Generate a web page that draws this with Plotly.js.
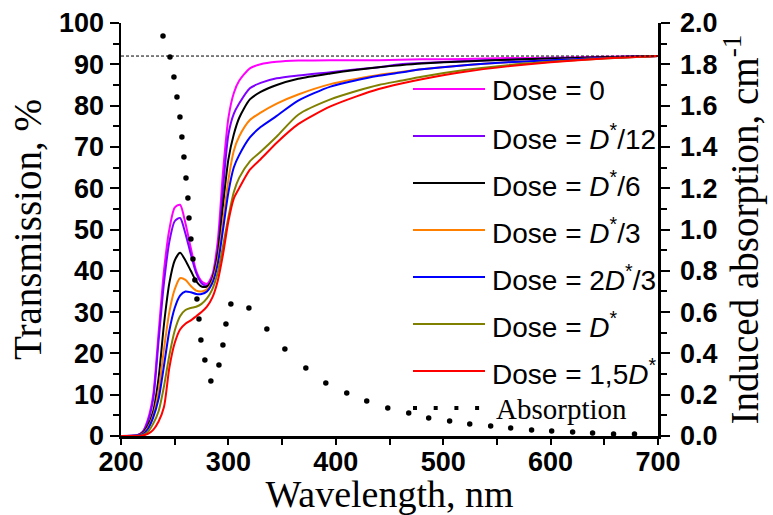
<!DOCTYPE html>
<html>
<head>
<meta charset="utf-8">
<script src="https://cdn.plot.ly/plotly-3.0.1.min.js"></script>
<style>
html,body{margin:0;padding:0;background:#ffffff;}
#chart{width:773px;height:515px;}
</style>
</head>
<body>
<div id="chart"></div>
<script>
// ---------- data ----------
const wavelength = [200, 215, 220, 225, 230, 235, 240, 245, 250, 255, 260, 265, 270, 275, 280, 285, 290, 295, 300, 305, 310, 320, 330, 345, 365, 395, 420, 440, 460, 480, 520, 560, 600, 650, 700];

const tDose0    = [0, 0.2, 1.0, 4.0, 10, 25, 40, 50, 55.3, 56.0, 51.5, 45.5, 40.0, 37.5, 36.8, 39.0, 47.0, 64.0, 77.0, 83.0, 86.0, 89.0, 90.0, 90.6, 90.9, 91.0, 91.0, 91.0, 91.1, 91.2, 91.3, 91.5, 91.6, 91.8, 92.0];
const tDoseD12  = [0, 0.2, 0.9, 3.5, 9, 23, 37, 47, 52.0, 52.8, 49.0, 44.0, 39.5, 37.0, 36.3, 38.5, 45.0, 60.0, 73.0, 78.0, 80.5, 84.2, 85.5, 86.6, 87.3, 88.1, 88.8, 89.3, 90.0, 90.3, 90.8, 91.1, 91.4, 91.7, 92.0];
const tDoseD6   = [0, 0.1, 0.7, 2.5, 6, 14, 27, 37, 42.5, 44.4, 42.5, 40.0, 37.5, 36.2, 36.2, 38.0, 44.0, 56.0, 67.0, 73.0, 77.0, 81.5, 83.3, 85.0, 86.5, 87.8, 88.7, 89.3, 89.8, 90.2, 90.7, 91.1, 91.4, 91.7, 92.0];
const tDoseD3   = [0, 0.1, 0.5, 2.0, 5, 11, 21, 30, 35.5, 38.2, 37.8, 36.3, 35.2, 35.0, 35.5, 37.5, 42.5, 52.0, 62.0, 69.0, 72.5, 76.5, 78.3, 80.5, 82.7, 85.2, 86.5, 87.4, 88.1, 88.8, 89.8, 90.5, 91.0, 91.5, 92.0];
const tDose2D3  = [0, 0.1, 0.4, 1.7, 4.5, 9, 17, 25.5, 31.0, 34.0, 35.0, 34.8, 34.4, 34.4, 35.0, 37.0, 41.5, 50.0, 59.0, 65.0, 68.0, 72.3, 74.8, 77.5, 81.2, 84.6, 86.2, 87.2, 88.0, 88.8, 89.8, 90.5, 91.0, 91.5, 92.0];
const tDoseD    = [0, 0.0, 0.2, 1.0, 3, 6, 12, 19.5, 25.5, 29.0, 30.5, 31.0, 31.3, 32.0, 33.3, 35.5, 39.5, 46.0, 53.0, 59.0, 62.5, 66.5, 68.8, 72.5, 77.8, 81.5, 83.6, 85.0, 86.0, 87.0, 88.6, 89.8, 90.6, 91.4, 92.0];
const tDose15D  = [0, 0.0, 0.1, 0.5, 1.5, 3.5, 7, 16.5, 22.5, 25.8, 27.2, 28.0, 29.0, 30.0, 31.3, 33.5, 37.5, 44.0, 52.0, 57.5, 60.0, 64.5, 67.0, 71.0, 75.5, 79.8, 82.3, 84.0, 85.3, 86.4, 88.2, 89.5, 90.5, 91.4, 92.0];

const seriesNames = [
  'Dose = 0',
  'Dose = <i>D</i><sup>*</sup>/12',
  'Dose = <i>D</i><sup>*</sup>/6',
  'Dose = <i>D</i><sup>*</sup>/3',
  'Dose = 2<i>D</i><sup>*</sup>/3',
  'Dose = <i>D</i><sup>*</sup>',
  'Dose = 1,5<i>D</i><sup>*</sup>'
];
const seriesValues = [tDose0, tDoseD12, tDoseD6, tDoseD3, tDose2D3, tDoseD, tDose15D];

const absWavelength = [239.1, 245.6, 249.3, 252.1, 254.9, 256.7, 258.6, 260.5, 262.3, 263.3, 265.1, 267.0, 268.8, 270.7, 272.6, 274.4, 278.1, 283.7, 291.2, 294.9, 297.7, 302.3, 319.1, 335.8, 352.6, 372.1, 390.7, 410.2, 428.8, 448.4, 467.9, 486.5, 506.0, 524.7, 544.2, 562.8, 582.3, 601.0, 620.5, 639.1, 658.6, 678.1];
const absValue = [1.937, 1.835, 1.738, 1.642, 1.545, 1.448, 1.351, 1.249, 1.153, 1.056, 0.954, 0.857, 0.755, 0.663, 0.567, 0.465, 0.368, 0.266, 0.344, 0.441, 0.542, 0.639, 0.620, 0.518, 0.421, 0.329, 0.257, 0.208, 0.169, 0.136, 0.111, 0.087, 0.073, 0.058, 0.048, 0.039, 0.029, 0.024, 0.019, 0.015, 0.010, 0.010];
const absName = 'Absorption';

const referenceLevel = 92;

// ---------- styles ----------
const seriesColors = ['#ff00ff', '#8000ff', '#000000', '#ff8000', '#0000ff', '#808000', '#ff0000'];
const sansFont = 'Liberation Sans, Arial, Helvetica, sans-serif';
const serifFont = 'Liberation Serif, Times New Roman, Times, serif';
const tickFont = {family: sansFont, size: 27, color: '#000', weight: 'bold'};
const titleFont = {family: serifFont, size: 39, color: '#000'};
const xTitleFont = {family: serifFont, size: 38, color: '#000'};

const W = 773, H = 515;
const M = {l: 121, r: 115, t: 23, b: 79};
const plotW = W - M.l - M.r, plotH = H - M.t - M.b;
const px2paperX = px => (px - M.l) / plotW;
const px2paperY = py => (H - M.b - py) / plotH;

// ---------- traces ----------
const traces = seriesValues.map((vals, i) => ({
  x: wavelength, y: vals, type: 'scatter', mode: 'lines',
  name: seriesNames[i],
  line: {color: seriesColors[i], width: 2, shape: 'spline', smoothing: 0.7},
  showlegend: false, hoverinfo: 'skip'
}));
traces.push({
  x: absWavelength, y: absValue, yaxis: 'y2', type: 'scatter', mode: 'markers',
  name: absName, marker: {color: '#000', size: 5.5}, showlegend: false, hoverinfo: 'skip'
});

// ---------- custom legend (long samples as in the reference) ----------
const shapes = [{
  type: 'line', xref: 'paper', yref: 'y', x0: 0, x1: 1, y0: referenceLevel, y1: referenceLevel,
  line: {color: '#000', width: 1, dash: '3px,2px'}
}];
const annotations = [];
const legX0 = 413, legX1 = 485, legTextX = 490, legY0 = 89, legStep = 47;
seriesNames.forEach((nm, i) => {
  const py = legY0 + i * legStep;
  shapes.push({type: 'line', xref: 'paper', yref: 'paper',
    x0: px2paperX(legX0), x1: px2paperX(legX1), y0: px2paperY(py), y1: px2paperY(py),
    line: {color: seriesColors[i], width: 2}});
  annotations.push({xref: 'paper', yref: 'paper', x: px2paperX(legTextX), y: px2paperY(py + 1),
    xanchor: 'left', yanchor: 'middle', showarrow: false, text: nm,
    font: {family: sansFont, size: 28, color: '#000'}});
});
shapes.push({type: 'line', xref: 'paper', yref: 'paper',
  x0: px2paperX(413), x1: px2paperX(481), y0: px2paperY(408), y1: px2paperY(408),
  line: {color: '#000', width: 4, dash: '4px,16.7px'}});
annotations.push({xref: 'paper', yref: 'paper', x: px2paperX(494), y: px2paperY(409),
  xanchor: 'left', yanchor: 'middle', showarrow: false, text: absName,
  font: {family: serifFont, size: 29, color: '#000'}});

// ---------- axes ----------
const axisCommon = {
  showgrid: false, zeroline: false, showline: true, linewidth: 2.5, linecolor: '#000',
  ticks: 'outside', tickwidth: 2, tickcolor: '#000', tickfont: tickFont, automargin: false
};

const layout = {
  width: W, height: H, margin: M,
  paper_bgcolor: '#fff', plot_bgcolor: '#fff', showlegend: false,
  xaxis: Object.assign({}, axisCommon, {
    range: [200, 700], tick0: 200, dtick: 100, ticklen: 6, ticklabelstandoff: -6,
    minor: {dtick: 50, ticks: 'outside', ticklen: 6, tickwidth: 2, tickcolor: '#000', showgrid: false},
    title: {text: 'Wavelength, nm', font: xTitleFont, standoff: 12}
  }),
  yaxis: Object.assign({}, axisCommon, {
    range: [0, 100], tick0: 0, dtick: 10, ticklen: 9,
    minor: {dtick: 5, ticks: 'outside', ticklen: 6, tickwidth: 2, tickcolor: '#000', showgrid: false},
    title: {text: 'Transmission, %', font: titleFont, standoff: 6}
  }),
  yaxis2: Object.assign({}, axisCommon, {
    overlaying: 'y', side: 'right', anchor: 'x',
    range: [0, 2], tick0: 0, dtick: 0.2, tickformat: '.1f', ticklen: 9, ticklabelstandoff: 5,
    minor: {dtick: 0.1, ticks: 'outside', ticklen: 6, tickwidth: 2, tickcolor: '#000', showgrid: false},
    title: {text: 'Induced absorption, cm<sup>-1</sup>', font: titleFont, standoff: 6}
  }),
  shapes: shapes,
  annotations: annotations
};

Plotly.newPlot('chart', traces, layout, {staticPlot: true, displayModeBar: false});
</script>
</body>
</html>
